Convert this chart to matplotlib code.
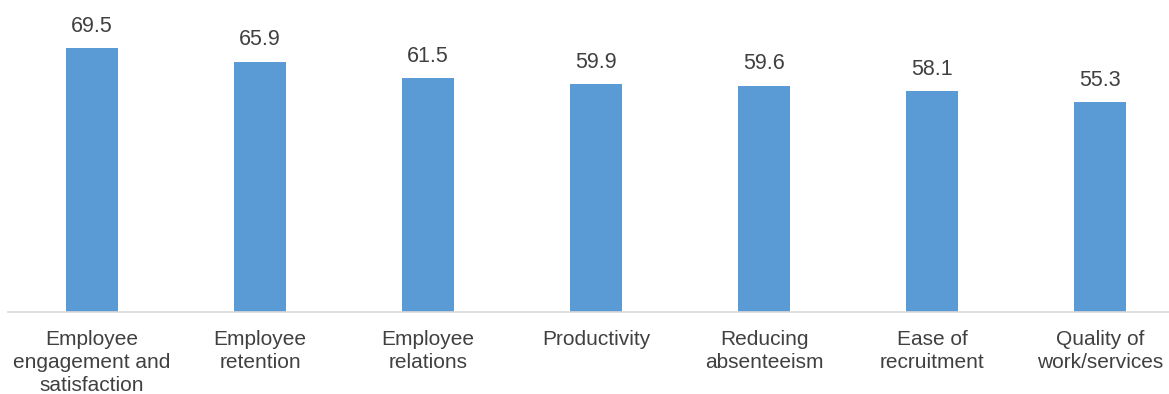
import matplotlib
matplotlib.use("Agg")
import matplotlib.pyplot as plt

categories = [
    "Employee\nengagement and\nsatisfaction",
    "Employee\nretention",
    "Employee\nrelations",
    "Productivity",
    "Reducing\nabsenteeism",
    "Ease of\nrecruitment",
    "Quality of\nwork/services",
]
values = [69.5, 65.9, 61.5, 59.9, 59.6, 58.1, 55.3]

bar_color = "#5B9BD5"
text_color = "#404040"

plt.rcParams["font.family"] = ["Liberation Sans", "DejaVu Sans"]

fig = plt.figure(figsize=(11.69, 3.94), dpi=100)
# plot area runs slightly past the right edge, like the source export
ax = fig.add_axes([8 / 1169, 82.5 / 394, 1176 / 1169, 303.2 / 394])

x = range(len(categories))
bars = ax.bar(x, values, width=0.31, color=bar_color, zorder=2)

for rect, v in zip(bars, values):
    ax.annotate(f"{v:.1f}", (rect.get_x() + rect.get_width() / 2, v),
                xytext=(0, 8.2), textcoords="offset points",
                ha="center", va="bottom", fontsize=15.5, color=text_color)

ax.set_xlim(-0.5, len(categories) - 0.5)
ax.set_ylim(0, 80)
ax.set_xticks(list(x))
ax.set_xticklabels(categories, fontsize=15, color=text_color, linespacing=1.26)
ax.tick_params(axis="x", length=0, pad=13.5)
ax.set_yticks([])

for side in ["top", "right", "left"]:
    ax.spines[side].set_visible(False)
ax.spines["bottom"].set_color("#d9d9d9")
ax.spines["bottom"].set_linewidth(1.2)

fig.savefig("out.png", dpi=100)
